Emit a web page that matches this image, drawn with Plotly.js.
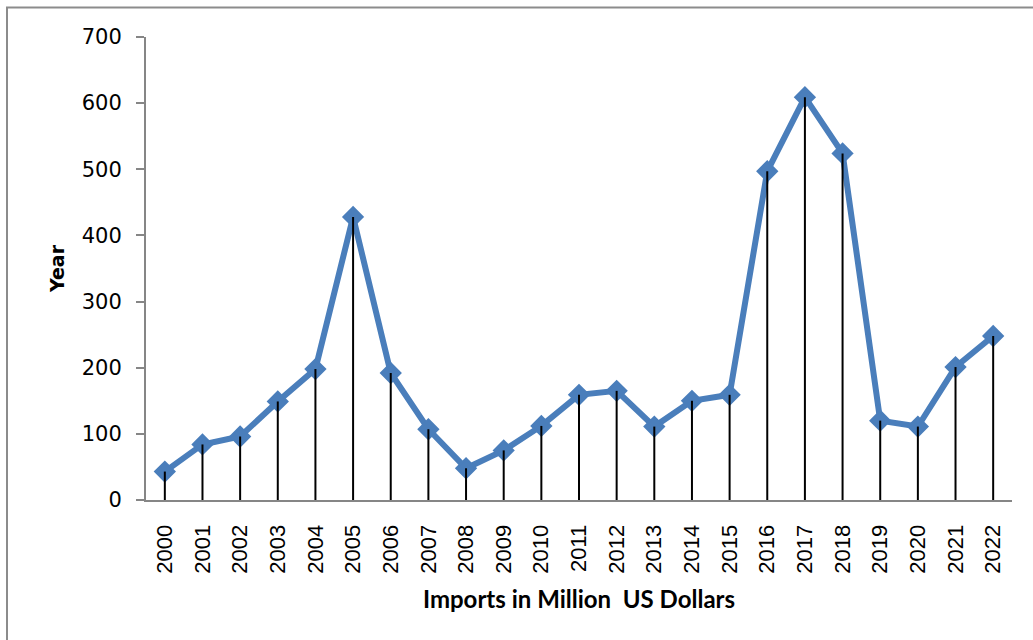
<!DOCTYPE html>
<html>
<head>
<meta charset="utf-8">
<script src="https://cdn.plot.ly/plotly-3.0.1.min.js"></script>
<style>html,body{margin:0;padding:0;background:#fff;}#chart{width:1033px;height:640px;}</style>
</head>
<body>
<div id="chart"></div>
<script>
const years = ["2000","2001","2002","2003","2004","2005","2006","2007","2008","2009","2010","2011","2012","2013","2014","2015","2016","2017","2018","2019","2020","2021","2022"];
const imports = [43, 84, 96, 149, 198, 428, 192, 107, 48, 75, 112, 159, 165, 111, 150, 159, 497, 609, 524, 120, 111, 201, 248];
const xTitle = "Imports in Million&nbsp; US Dollars";
const yTitle = "Year";
const yTicks = [0,100,200,300,400,500,600,700];

const W = 1033, H = 640;
const m = {l:146, r:21, t:36.5, b:139.5};
const pw = W - m.l - m.r, ph = H - m.t - m.b;
const blue = "#4a7ebb";

const traces = [
  {
    x: years, y: imports, type: "scatter", mode: "lines+markers",
    line: {color: blue, width: 6},
    marker: {symbol: "diamond", size: 15, color: blue, line: {color: blue, width: 2}},
    hoverinfo: "skip", showlegend: false
  },
  {
    x: years, y: imports, type: "scatter", mode: "markers",
    marker: {size: 1, color: "rgba(0,0,0,0)"},
    error_y: {type: "data", symmetric: false, array: imports.map(() => 0), arrayminus: imports, width: 0, thickness: 2, color: "#000"},
    hoverinfo: "skip", showlegend: false
  }
];

const layout = {
  width: W, height: H,
  margin: m,
  paper_bgcolor: "#fff", plot_bgcolor: "#fff",
  showlegend: false,
  xaxis: {
    type: "category", range: [-0.5, 22.5],
    showline: true, linecolor: "#868686", linewidth: 2,
    showgrid: false, zeroline: false,
    ticks: "", tickangle: -90,
    ticklabelstandoff: 14,
    tickfont: {family: "Liberation Sans, Arial, sans-serif", size: 22, color: "#000"},
    title: {text: "<b>" + xTitle + "</b>", font: {family: "Lato, sans-serif", size: 24, color: "#000"}, standoff: 18}
  },
  yaxis: {
    range: [0, 700], tickvals: yTicks, ticktext: yTicks.map(String),
    showline: true, linecolor: "#868686", linewidth: 2,
    showgrid: false, zeroline: false,
    ticks: "outside", ticklen: 8, tickwidth: 2, tickcolor: "#868686",
    ticklabelstandoff: 10,
    tickfont: {family: "DejaVu Sans, sans-serif", size: 21, color: "#000"},
    title: {text: "<b>" + yTitle + "</b>", font: {family: "DejaVu Sans, sans-serif", size: 19, color: "#000"}, standoff: 12}
  },
  shapes: [{
    type: "rect", xref: "paper", yref: "paper", layer: "above",
    x0: (7 - m.l) / pw, x1: (W + 10 - m.l) / pw,
    y0: (H - m.b - (H + 10)) / ph, y1: (H - m.b - 7) / ph,
    line: {color: "#8c8c8c", width: 2}
  }]
};

Plotly.newPlot("chart", traces, layout, {displayModeBar: false, staticPlot: true});
</script>
</body>
</html>
